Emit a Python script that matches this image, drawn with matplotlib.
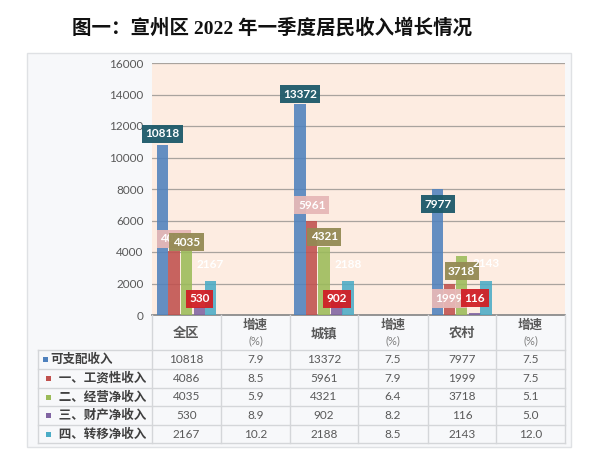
import matplotlib
matplotlib.use('Agg')
import matplotlib.pyplot as plt
from matplotlib.patches import Rectangle
from matplotlib.lines import Line2D
import numpy as np

# ---------------- data ----------------
title = '图一：宣州区 2022 年一季度居民收入增长情况'
categories = ['全区', '增速\n(%)', '城镇', '增速\n(%)', '农村', '增速\n(%)']
is_growth = [False, True, False, True, False, True]
series_names = ['可支配收入', '  一、工资性收入', '  二、经营净收入', '  三、财产净收入', '  四、转移净收入']
disposable = [10818, 7.9, 13372, 7.5, 7977, 7.5]
wage = [4086, 8.5, 5961, 7.9, 1999, 7.5]
business = [4035, 5.9, 4321, 6.4, 3718, 5.1]
property_inc = [530, 8.9, 902, 8.2, 116, 5.0]
transfer = [2167, 10.2, 2188, 8.5, 2143, 12.0]
series_values = [disposable, wage, business, property_inc, transfer]
yticks = list(range(0, 16001, 2000))

# ---------------- style ----------------
bar_colors = ['#4f81bd', '#c0504d', '#9bbb59', '#8064a2', '#4bacc6']
label_box = ['#1d5a6a', '#e6b8b7', '#948a54', '#d01f26', None]
# vertical label offsets (pixels) per series, per income column (全区, 城镇, 农村)
label_dy = [[11, 10, -15],
            [12, 16, -15],
            [9, 10, -15],
            [8, 2, 15],
            [16, 16, 18]]
bar_off = [-0.35, -0.18, 0.0, 0.19, 0.35]
bar_w = 0.165

W, H = 600, 467
plt.rcParams['font.family'] = ['Lato', 'Noto Sans CJK SC', 'DejaVu Sans']

fig = plt.figure(figsize=(W / 100, H / 100), dpi=100)
fig.patch.set_facecolor('white')

def fx(px):
    return px / W

def fy(py):
    return 1 - py / H

# outer chart box
fig.add_artist(Rectangle((fx(27), fy(447)), fx(571) - fx(27), fy(53) - fy(447),
                         transform=fig.transFigure, facecolor='#f7f8fa',
                         edgecolor='#dfe1e4', lw=1, zorder=0))

fig.text(fx(272), fy(28), title, ha='center', va='center', fontsize=14,
         fontweight='bold', family=['Liberation Serif', 'Noto Sans CJK SC'], color='#111111')

left, right, top, bottom = 152, 565, 63, 315
ax = fig.add_axes([fx(left), fy(bottom), fx(right) - fx(left), fy(top) - fy(bottom)])
ax.set_facecolor('#fdece1')
x = np.arange(len(categories))
for i, vals in enumerate(series_values):
    ax.bar(x + bar_off[i], vals, width=bar_w, color=bar_colors[i], alpha=0.88, zorder=3)

income_cols = [j for j in range(len(categories)) if not is_growth[j]]
for i, vals in enumerate(series_values):
    for k, j in enumerate(income_cols):
        v = vals[j]
        bbox = None
        if label_box[i] is not None:
            bbox = dict(boxstyle='square,pad=0.3', facecolor=label_box[i], edgecolor='none', alpha=0.95)
        ax.annotate(f'{v:.0f}', xy=(j + bar_off[i], v), xytext=(0, label_dy[i][k]),
                    textcoords='offset pixels', ha='center', va='center', fontsize=8.5,
                    fontweight='bold', color='white', bbox=bbox, zorder=5,
                    family=['Lato', 'DejaVu Sans'])

ax.set_xlim(-0.5, len(categories) - 0.5)
ax.set_ylim(0, 16000)
ax.set_yticks(yticks)
ax.set_yticklabels([str(t) for t in yticks], color='#595959', fontsize=8.5)
ax.tick_params(axis='y', length=0, pad=6)
ax.set_xticks([])
ax.grid(axis='y', color='#a9a39e', lw=0.9, zorder=1)
ax.set_axisbelow(True)
for s in ['top', 'right', 'left']:
    ax.spines[s].set_visible(False)
ax.spines['bottom'].set_color('#8c8c8c')
ax.spines['bottom'].set_linewidth(1.3)

# ---------------- data table ----------------
col_edges = [152, 221, 290, 358, 428, 496, 565]
row_edges = [350, 369, 388, 406, 425, 443]
tcolor = '#d4d6d9'
for xe in col_edges:
    fig.add_artist(Line2D([fx(xe), fx(xe)], [fy(315), fy(443)], transform=fig.transFigure,
                          color=tcolor, lw=1))
for ye in row_edges:
    fig.add_artist(Line2D([fx(38), fx(565)], [fy(ye), fy(ye)], transform=fig.transFigure,
                          color=tcolor, lw=1))
fig.add_artist(Line2D([fx(38), fx(38)], [fy(350), fy(443)], transform=fig.transFigure,
                      color=tcolor, lw=1))

for j, cat in enumerate(categories):
    cx = (col_edges[j] + col_edges[j + 1]) / 2
    if is_growth[j]:
        name, pct = cat.split('\n')
        fig.text(fx(cx), fy(325), name, ha='center', va='center', fontsize=9,
                 color='#595959', fontweight='bold')
        fig.text(fx(cx), fy(341), pct, ha='center', va='center', fontsize=8,
                 color='#7f7f7f')
    else:
        fig.text(fx(cx), fy(333), cat, ha='center', va='center', fontsize=9.5,
                 color='#595959', fontweight='bold')

for i, (name, vals) in enumerate(zip(series_names, series_values)):
    cy = (row_edges[i] + row_edges[i + 1]) / 2
    sqx = 43 if i == 0 else 46
    fig.add_artist(Rectangle((fx(sqx), fy(cy + 2.5)), 5 / W, 5 / H, transform=fig.transFigure,
                             facecolor=bar_colors[i], edgecolor='none'))
    fig.text(fx(50 if i == 0 else 53), fy(cy), name, ha='left', va='center', fontsize=9,
             color='#404040', fontweight='bold', family=['Noto Sans CJK SC'])
    for j, v in enumerate(vals):
        cx = (col_edges[j] + col_edges[j + 1]) / 2
        txt = f'{v:.1f}' if is_growth[j] else f'{v:.0f}'
        fig.text(fx(cx), fy(cy), txt, ha='center', va='center', fontsize=8.5, color='#595959')

fig.savefig('out.png', dpi=100)
